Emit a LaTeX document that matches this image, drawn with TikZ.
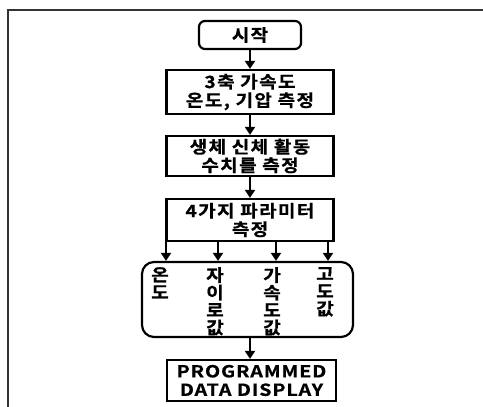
\documentclass[tikz,border=0pt]{standalone}
\usepackage{fontspec}
\usetikzlibrary{arrows.meta}
\newfontfamily\krfont{Noto Sans CJK KR Bold}[FakeStretch=1.12,LetterSpace=8,FakeBold=0.7]
\newfontfamily\latfont{Noto Sans CJK KR Bold}[FakeStretch=1.2,LetterSpace=5,FakeBold=0.5]
\begin{document}
\begin{tikzpicture}[x=1pt,y=-1pt,
  box/.style={draw, line width=2.2pt, inner sep=0pt, align=center,
    font=\fontsize{17}{18.5}\krfont},
  arr/.style={line width=2.2pt, -{Triangle[width=10pt,length=8pt]}},
  col/.style={anchor=north, inner sep=0pt, align=center,
    font=\fontsize{17}{17.5}\krfont},
  frame/.style={line width=1.5pt, black!80}]
\useasboundingbox (0,0) rectangle (483,407);
\coordinate (fr) at (483,10);
\coordinate (fc) at (8,10);
\coordinate (fb) at (8,407);
\draw[frame] (fr) -- (fc) -- (fb);

\node[box, rounded corners=6pt, minimum width=102pt, minimum height=28pt] (start) at (250,35) {시작};
\node[box, minimum width=167pt, minimum height=44pt] (b2) at (250,92) {3축 가속도\\온도, 기압 측정};
\node[box, minimum width=167pt, minimum height=40pt] (b3) at (250,156) {생체 신체 활동\\수치를 측정};
\node[box, minimum width=167pt, minimum height=42pt] (b4) at (250,220) {4가지 파라미터\\측정};
\node[box, rounded corners=12pt, minimum width=211pt, minimum height=75pt] (b5) at (247.5,299.5) {};
\node[box, minimum width=169pt, minimum height=41pt,
  font=\fontsize{16.5}{18.5}\latfont] (b6) at (251.5,380.5) {PROGRAMMED\\DATA DISPLAY};

\node[col] (c1) at (160,267) {온\\도};
\node[col] (c2) at (215,267) {자\\이\\로\\값};
\node[col] (c3) at (272,267) {가\\속\\도\\값};
\node[col] (c4) at (325,267) {고\\도\\값};

\draw[arr] (start.south) -- (start.south |- b2.north);
\draw[arr] (b2.south) -- (b2.south |- b3.north);
\draw[arr] (b3.south) -- (b3.south |- b4.north);
\draw[arr] ([xshift=-84pt]b4.south) -- ([xshift=-84pt]b4.south |- b5.north);
\draw[arr] ([xshift=-32pt]b4.south) -- ([xshift=-32pt]b4.south |- b5.north);
\draw[arr] ([xshift=26pt]b4.south) -- ([xshift=26pt]b4.south |- b5.north);
\draw[arr] ([xshift=78pt]b4.south) -- ([xshift=78pt]b4.south |- b5.north);
\draw[arr] (b5.south -| b4.south) -- (b6.north -| b4.south);
\end{tikzpicture}
\end{document}
